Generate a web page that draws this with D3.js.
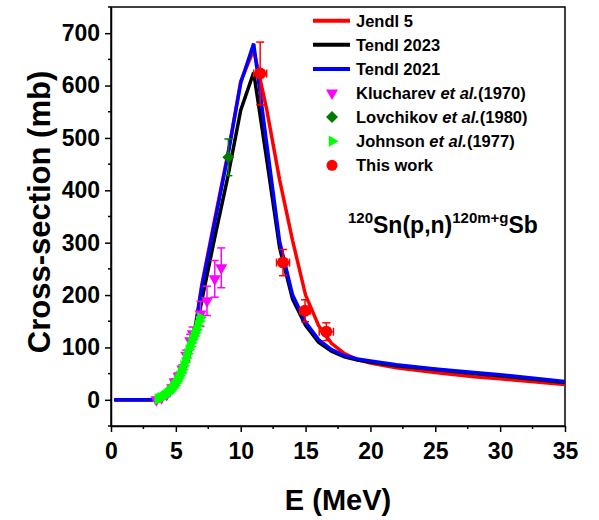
<!DOCTYPE html>
<html>
<head>
<meta charset="utf-8">
<script src="https://cdn.jsdelivr.net/npm/d3@7/dist/d3.min.js"></script>
<style>
  body { margin: 0; background: #fff; }
  text { font-family: "Liberation Sans", Arial, sans-serif; font-weight: bold; fill: #000; }
</style>
</head>
<body>
<svg id="chart" width="599" height="520"></svg>
<script>
// ---- Data ----
const jendl5 = [
  [0.25,0],[3.3,0],[4,6],[4.5,16],[5,34],[5.5,63],[6,96],[6.5,140],[7,220],[8,345],[9,468],[10,608],[11,668],
  [12,555],[13,420],[14,304],[15,200],[16,142],[17,108],[18,88],[19,77],[20,70],[22,61],[25,52],[28,44],[30,40],[35,29]
];
const tendl2023 = [
  [0.25,0],[3.3,0],[4,5],[4.5,13],[5,28],[5.5,52],[6,84],[6.5,125],[7,190],[8,310],[9,425],[10,553],[11,625],
  [12,460],[13,290],[14,192],[15,142],[16,110],[17,93],[18,82],[19,76],[20,72],[22,65],[25,58],[28,50],[30,46],[35,33]
];
const tendl2021 = [
  [0.25,0],[3.3,0],[4,6],[4.5,15],[5,32],[5.5,60],[6,92],[6.5,135],[7,215],[8,340],[9,465],[10,605],[11,680],
  [12,490],[13,302],[14,200],[15,148],[16,115],[17,96],[18,84],[19,78],[20,74],[22,67],[25,59],[28,52],[30,48],[35,35]
];
// Klucharev et al. (1970): [E, sigma, error]
const klucharev = [
  [3.5,0,3],[3.9,4,3],[4.3,10,4],[4.7,23,5],[4.9,34,6],[5.2,45,7],[5.5,59,8],[5.8,85,10],
  [6.1,113,12],[6.3,126,13],[6.9,164,24],[7.4,189,28],[8.0,231,35],[8.5,252,38]
];
// Lovchikov et al. (1980)
const lovchikov = [[9.05,463,35]];
// Johnson et al. (1977)
const johnson = [
  [3.6,1],[3.7,2],[3.8,3],[3.9,4],[4.0,5],[4.1,7],[4.2,9],[4.3,11],[4.4,13],[4.5,15],[4.6,18],
  [4.7,21],[4.8,24],[4.9,28],[5.0,32],[5.1,36],[5.2,41],[5.3,46],[5.4,52],[5.5,58],[5.6,65],
  [5.7,72],[5.8,80],[5.9,88],[6.0,96],[6.1,102],[6.2,109],[6.3,116],[6.4,122],[6.5,128],
  [6.6,134],[6.7,142],[6.8,150],[6.9,157]
];
// This work: [E, dE, sigma, dSigma]
const thisWork = [
  [11.5,0.5,623,60],[13.26,0.5,262,25],[14.96,0.4,170,21],[16.6,0.55,130,17]
];
const xTicks = [0,5,10,15,20,25,30,35];
const yTicks = [0,100,200,300,400,500,600,700];
const legendLabels = ["Jendl 5","Tendl 2023","Tendl 2021","Klucharev","Lovchikov","Johnson","This work"];

// ---- Layout ----
const svg = d3.select("#chart");
const L = 111, R = 565, T = 7, B = 426;
const x = d3.scaleLinear().domain([0,35]).range([L,R]);
const y = d3.scaleLinear().domain([-50,750]).range([B,T]);

// frame
svg.append("rect").attr("x",L).attr("y",T).attr("width",R-L).attr("height",B-T)
  .attr("fill","none").attr("stroke","#000").attr("stroke-width",1.5);

// axes
const yAxis = d3.axisLeft(y).tickValues(yTicks).tickSize(6).tickSizeOuter(0).tickPadding(5);
const gy = svg.append("g").attr("transform",`translate(${L},0)`).call(yAxis);
const xAxis = d3.axisBottom(x).tickValues(xTicks).tickSize(6).tickSizeOuter(0).tickPadding(11);
const gx = svg.append("g").attr("transform",`translate(0,${B})`).call(xAxis);
[gx,gy].forEach(g => {
  g.select(".domain").attr("stroke","#000").attr("stroke-width",1.5);
  g.selectAll(".tick line").attr("stroke","#000").attr("stroke-width",1.5);
  g.selectAll(".tick text").style("font-size","23px").style("font-weight","bold")
    .style("font-family","'Liberation Sans', Arial, sans-serif").attr("fill","#000");
});
// minor ticks
const yMinor = d3.range(-50,751,100);
svg.append("g").selectAll("line").data(yMinor).join("line")
  .attr("x1",L-3).attr("x2",L).attr("y1",d=>y(d)).attr("y2",d=>y(d))
  .attr("stroke","#000").attr("stroke-width",1.5);
const xMinor = d3.range(2.5,35,5);
svg.append("g").selectAll("line").data(xMinor).join("line")
  .attr("y1",B).attr("y2",B+3).attr("x1",d=>x(d)).attr("x2",d=>x(d))
  .attr("stroke","#000").attr("stroke-width",1.5);

// axis titles
svg.append("text").attr("transform","translate(50,212) rotate(-90)")
  .attr("text-anchor","middle").style("font-size","31px").text("Cross-section (mb)");
svg.append("text").attr("x",338).attr("y",510).attr("text-anchor","middle")
  .style("font-size","29px").text("E (MeV)");

// clip
svg.append("clipPath").attr("id","clip").append("rect")
  .attr("x",L).attr("y",T).attr("width",R-L).attr("height",B-T);
const plot = svg.append("g").attr("clip-path","url(#clip)");

const line = d3.line().x(d=>x(d[0])).y(d=>y(d[1]));
const curves = [[jendl5,"#ff0000"],[tendl2023,"#000000"],[tendl2021,"#0000ff"]];
curves.forEach(([data,col]) => {
  plot.append("path").datum(data).attr("d",line).attr("fill","none")
    .attr("stroke",col).attr("stroke-width",3.5).attr("stroke-linejoin","miter");
});

// error bar helper
function vErr(g, cx, y0, y1, col, cap){
  g.append("line").attr("x1",cx).attr("x2",cx).attr("y1",y0).attr("y2",y1).attr("stroke",col).attr("stroke-width",1.5);
  [y0,y1].forEach(v => g.append("line").attr("x1",cx-cap).attr("x2",cx+cap).attr("y1",v).attr("y2",v).attr("stroke",col).attr("stroke-width",1.5));
}
function hErr(g, cy, x0, x1, col, cap){
  g.append("line").attr("x1",x0).attr("x2",x1).attr("y1",cy).attr("y2",cy).attr("stroke",col).attr("stroke-width",1.5);
  [x0,x1].forEach(v => g.append("line").attr("x1",v).attr("x2",v).attr("y1",cy-cap).attr("y2",cy+cap).attr("stroke",col).attr("stroke-width",1.5));
}

const triSym = d3.symbol().type(d3.symbolTriangle).size(62);
const triSmall = d3.symbol().type(d3.symbolTriangle).size(55);
const sqSym = d3.symbol().type(d3.symbolSquare).size(72);

// Klucharev
const gk = plot.append("g");
klucharev.forEach(d => vErr(gk, x(d[0]), y(d[1]-d[2]), y(d[1]+d[2]), "#ff00ff", 4));
gk.selectAll("path").data(klucharev).join("path").attr("d",triSym)
  .attr("transform",d=>`translate(${x(d[0])},${y(d[1])}) rotate(180)`).attr("fill","#ff00ff");

// Johnson
plot.append("g").selectAll("path").data(johnson).join("path").attr("d",triSmall)
  .attr("transform",d=>`translate(${x(d[0])},${y(d[1])}) rotate(90)`).attr("fill","#00ff00");

// Lovchikov
const gl = plot.append("g");
lovchikov.forEach(d => vErr(gl, x(d[0]), y(d[1]-d[2]), y(d[1]+d[2]), "#007a00", 4));
gl.selectAll("path").data(lovchikov).join("path").attr("d",sqSym)
  .attr("transform",d=>`translate(${x(d[0])},${y(d[1])}) rotate(45)`).attr("fill","#007a00");

// This work
const gw = plot.append("g");
thisWork.forEach(d => {
  vErr(gw, x(d[0]), y(d[2]-d[3]), y(d[2]+d[3]), "#ff0000", 4);
  hErr(gw, y(d[2]), x(d[0]-d[1]), x(d[0]+d[1]), "#ff0000", 4);
});
gw.selectAll("circle").data(thisWork).join("circle")
  .attr("cx",d=>x(d[0])).attr("cy",d=>y(d[2])).attr("r",6).attr("fill","#ff0000");

// legend
const lg = svg.append("g");
const rowY = i => 20.7 + i*24.1;
curves.forEach(([_,col],i) => {
  lg.append("line").attr("x1",313).attr("x2",350).attr("y1",rowY(i)).attr("y2",rowY(i))
    .attr("stroke",col).attr("stroke-width",4);
});
lg.append("path").attr("d",triSym).attr("transform",`translate(332,${rowY(3)}) rotate(180)`).attr("fill","#ff00ff");
lg.append("path").attr("d",sqSym).attr("transform",`translate(332,${rowY(4)}) rotate(45)`).attr("fill","#007a00");
lg.append("path").attr("d",triSmall).attr("transform",`translate(332,${rowY(5)}) rotate(90)`).attr("fill","#00ff00");
lg.append("circle").attr("cx",332).attr("cy",rowY(6)).attr("r",5.5).attr("fill","#ff0000");
const years = {3:"(1970)",4:"(1980)",5:"(1977)"};
legendLabels.forEach((lab,i) => {
  const t = lg.append("text").attr("x",356).attr("y",rowY(i)+6).style("font-size","16.5px");
  if (years[i]) {
    t.append("tspan").text(lab+" ");
    t.append("tspan").style("font-style","italic").text("et al.");
    t.append("tspan").text(years[i]);
  } else t.text(lab);
});

// reaction annotation
const ann = svg.append("text").attr("x",348).attr("y",233).style("font-size","23px");
ann.append("tspan").style("font-size","15px").attr("dy",-10).text("120");
ann.append("tspan").attr("dy",10).text("Sn(p,n)");
ann.append("tspan").style("font-size","15px").attr("dy",-10).text("120m+g");
ann.append("tspan").attr("dy",10).text("Sb");
</script>
</body>
</html>
